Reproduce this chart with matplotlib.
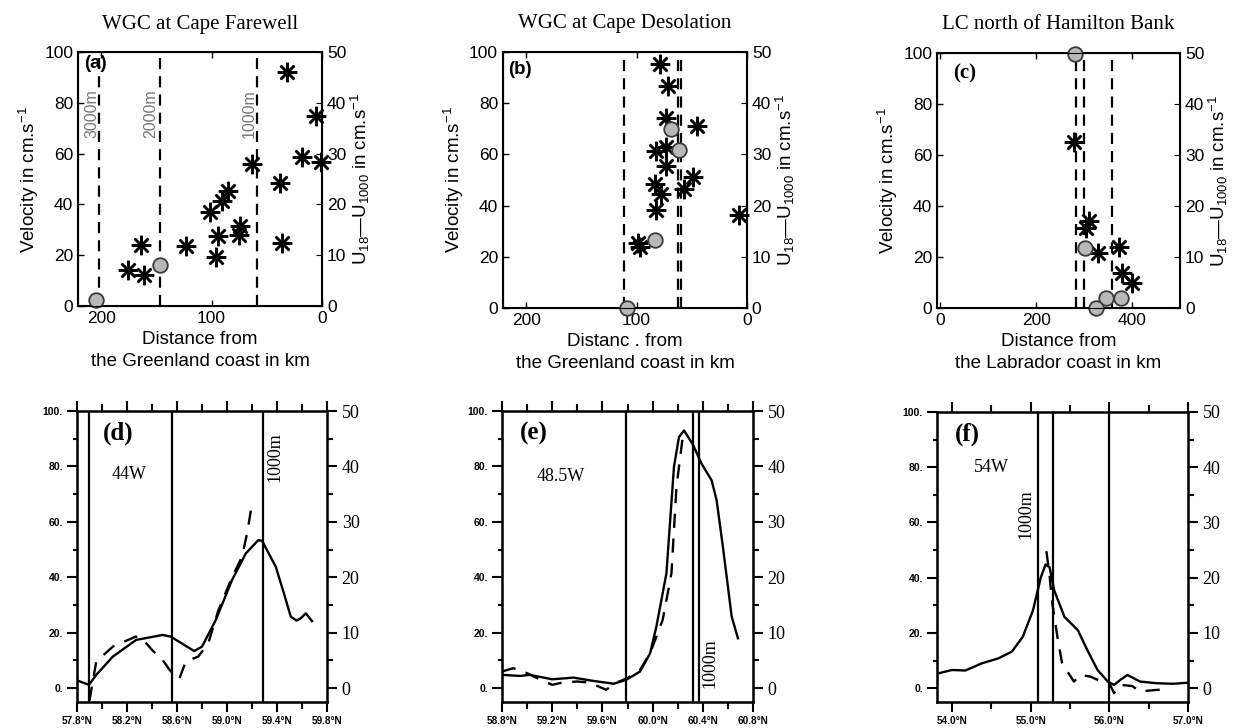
import matplotlib
matplotlib.use("Agg")
import matplotlib.pyplot as plt
from matplotlib.ticker import MultipleLocator, FixedLocator

plt.rcParams['font.family'] = ['Liberation Sans', 'DejaVu Sans']
plt.rcParams['mathtext.fontset'] = 'custom'
plt.rcParams['mathtext.rm'] = 'Liberation Sans'
plt.rcParams['mathtext.it'] = 'Liberation Sans:italic'
SERIF = 'Liberation Serif'

# ---------------- top row: velocities vs distance from the coast ----------------
a_star_x = [31.5, 5.5, 63.3, 18.5, 0.9, 38.2, 85.2, 90.3, 101.2, 74.5, 75.2, 94.2,
            123.0, 163.9, 35.8, 95.8, 176.0, 161.5]
a_star_y = [92.1, 74.9, 56.1, 58.7, 56.9, 48.5, 45.3, 41.3, 37.1, 31.4, 28.1, 27.4,
            23.5, 24.1, 24.8, 19.1, 14.2, 12.3]
a_circ_x = [204.8, 146.4]
a_circ_y = [2.1, 16.0]
a_isobaths = [202.4, 146.4, 58.5]
a_isobath_labels = ["3000m", "2000m", "1000m"]
a_isobath_label_x = [208.5, 154.8, 65.5]

b_star_x = [79.2, 71.7, 73.2, 45.5, 73.2, 82.1, 73.8, 48.5, 83.6, 77.7, 56.8, 82.7,
            7.7, 98.5, 97.0]
b_star_y = [95.4, 86.7, 74.2, 71.2, 63.0, 61.4, 55.6, 51.0, 48.6, 44.7, 46.4, 38.3,
            36.2, 25.5, 23.9]
b_circ_x = [68.8, 61.3, 83.6, 108.9]
b_circ_y = [69.9, 61.7, 26.4, 0.0]
b_isobaths = [111.3, 62.8, 59.8]

c_star_x = [278.4, 310.9, 304.0, 328.2, 373.0, 378.6, 400.7]
c_star_y = [65.2, 34.1, 31.5, 21.7, 24.0, 13.8, 9.8]
c_circ_x = [281.9, 302.6, 345.5, 376.6, 324.7]
c_circ_y = [99.7, 23.6, 3.9, 3.9, 0.0]
c_isobaths = [283.3, 300.0, 357.9]

titles = ["WGC at Cape Farewell", "WGC at Cape Desolation", "LC north of Hamilton Bank"]
xlabels = ["Distance from\nthe Greenland coast in km",
           "Distanc . from\nthe Greenland coast in km",
           "Distance from\nthe Labrador coast in km"]

# ---------------- bottom row: model sections ----------------
d_lat = [57.8, 57.896, 57.954, 58.087, 58.273, 58.485, 58.55, 58.737, 58.80, 58.91,
         59.04, 59.15, 59.25, 59.28, 59.39, 59.455, 59.51, 59.556, 59.59, 59.63, 59.68]
d_vel = [2.8, 1.2, 4.8, 11.4, 17.4, 19.2, 18.6, 13.4, 15.0, 24.6,
         39.0, 48.6, 53.4, 53.2, 43.8, 34.2, 25.8, 24.4, 25.2, 27.0, 24.2]
d_lat_dash = [57.9, 57.954, 58.087, 58.27, 58.32, 58.40, 58.485, 58.55, 58.62, 58.67,
              58.77, 58.85, 58.93, 59.04, 59.12, 59.16, 59.2]
d_vel_dash = [-4.5, 9.6, 15.0, 18.6, 18.0, 13.8, 10.2, 6.0, 3.6, 9.6,
              11.4, 16.2, 28.0, 40.0, 47.4, 55.8, 66.6]
d_vlines = [57.9, 58.56, 59.288]

e_lat = [58.8, 58.946, 59.02, 59.2, 59.37, 59.53, 59.69, 59.79, 59.9, 59.98, 60.03,
         60.11, 60.17, 60.21, 60.25, 60.32, 60.39, 60.47, 60.51, 60.56, 60.63, 60.68]
e_vel = [4.8, 4.4, 4.8, 3.2, 3.8, 2.6, 1.6, 3.0, 6.0, 12.6, 22.2,
         41.4, 79.8, 90.6, 93.0, 88.0, 81.0, 75.0, 67.8, 51.0, 25.8, 18.0]
e_lat_dash = [58.8, 58.89, 59.0, 59.08, 59.2, 59.28, 59.4, 59.5, 59.63, 59.7, 59.8,
              59.9, 59.98, 60.08, 60.15, 60.19, 60.24, 60.26]
e_vel_dash = [6.0, 7.2, 5.4, 3.6, 1.2, 2.0, 2.4, 2.0, -0.6, 1.8, 3.6,
              6.6, 12.6, 24.6, 41.4, 72.6, 90.6, 93.0]
e_vlines = [59.79, 60.323, 60.37]

f_lat = [63.83, 64.0, 64.17, 64.38, 64.59, 64.76, 64.9, 65.03, 65.13, 65.19, 65.24,
         65.3, 65.43, 65.6, 65.72, 65.85, 65.98, 66.06, 66.14, 66.23, 66.39, 66.6,
         66.81, 67.0]
f_vel = [5.4, 6.6, 6.4, 9.0, 10.8, 13.2, 18.6, 28.2, 40.2, 44.8, 43.8,
         35.4, 25.8, 21.0, 13.8, 6.6, 2.4, 1.2, 3.0, 4.8, 2.4, 1.8, 1.6, 2.0]
f_lat_dash = [65.2, 65.24, 65.27, 65.34, 65.4, 65.55, 65.63, 65.76, 65.9, 66.0,
              66.06, 66.14, 66.29, 66.39, 66.6, 66.77]
f_vel_dash = [49.6, 41.0, 31.8, 18.6, 9.0, 2.4, 4.8, 4.2, 2.4, 1.8,
              -1.8, 1.2, 0.8, -1.2, -0.6, -0.6]
f_vlines = [65.097, 65.284, 66.0]

vel_ticks = [0, 20, 40, 60, 80, 100]
vel_ticklabels = ["0.", "20.", "40.", "60.", "80.", "100."]

fig = plt.figure(figsize=(12.54, 7.28), dpi=100)


def top_panel(pos, xlim, xticks, sx, sy, cx, cy, isobaths, tag, tag_kw, title, xlabel):
    ax = fig.add_axes(pos)
    for xv in isobaths:
        ax.axvline(xv, color='k', lw=1.6, ls=(0, (5, 3.2)))
    ax.plot(sx, sy, ls='none', marker=(8, 2, 0), ms=14, mew=1.8, color='k', clip_on=False)
    ax.plot(cx, cy, ls='none', marker='o', ms=10.5, mfc='#b8b8b8', mec='#3a3a3a',
            mew=1.3, clip_on=False, zorder=4)
    ax.set_xlim(xlim)
    ax.set_ylim(0, 100)
    ax.set_xticks(xticks)
    ax.set_yticks(vel_ticks)
    ax.tick_params(direction='in', top=True, length=4, labelsize=12.5, width=1)
    for s in ax.spines.values():
        s.set_linewidth(1.5)
    ax.set_ylabel("Velocity in cm.s$^{-1}$", fontsize=13.5, labelpad=2)
    ax.set_xlabel(xlabel, fontsize=13.5, linespacing=1.35, labelpad=4)
    ax.set_title(title, family=SERIF, fontsize=15, pad=17)
    ax.text(*tag, transform=ax.transAxes, ha='left', va='center', **tag_kw)
    ax2 = ax.twinx()
    ax2.set_ylim(0, 50)
    ax2.set_yticks([0, 10, 20, 30, 40, 50])
    ax2.tick_params(direction='in', length=4, labelsize=12.5)
    ax2.set_ylabel("U$_{18}$\u2014U$_{1000}$ in cm.s$^{-1}$", fontsize=13.5, labelpad=2)
    return ax


ax_a = top_panel([0.0622, 0.580, 0.1946, 0.348], (221, 0), [200, 100, 0],
                 a_star_x, a_star_y, a_circ_x, a_circ_y, a_isobaths,
                 (0.025, 0.955, "(a)"), dict(fontsize=13.5, weight='bold'),
                 titles[0], xlabels[0])
for xv, lbl in zip(a_isobath_label_x, a_isobath_labels):
    ax_a.text(xv, 76, lbl, rotation=90, ha='center', va='center', color='#777777',
              fontsize=11.5)

top_panel([0.4011, 0.577, 0.1946, 0.3516], (221, 0), [200, 100, 0],
          b_star_x, b_star_y, b_circ_x, b_circ_y, b_isobaths,
          (0.022, 0.93, "(b)"), dict(fontsize=13.5, weight='bold'),
          titles[1], xlabels[1])

top_panel([0.7472, 0.577, 0.1938, 0.3503], (-7, 500), [0, 200, 400],
          c_star_x, c_star_y, c_circ_x, c_circ_y, c_isobaths,
          (0.066, 0.92, "(c)"), dict(fontsize=15, weight='bold', family=SERIF),
          titles[2], xlabels[2])


def bottom_panel(pos, xlim, major, minor, xticklabels, lat, vel, lat_d, vel_d, vlines,
                 tag_x, tags, lon_xy, depth_xy):
    ax = fig.add_axes(pos)
    ax.plot(lat, vel, color='k', lw=1.7)
    ax.plot(lat_d, vel_d, color='k', lw=1.7, ls=(0, (6, 4.5)))
    for xv in vlines:
        ax.axvline(xv, color='k', lw=1.6)
    ax.set_xlim(xlim)
    ax.set_ylim(-5, 100)
    ax.xaxis.set_major_locator(FixedLocator(major))
    ax.set_xticklabels(xticklabels, fontsize=7.2, weight='bold')
    ax.xaxis.set_minor_locator(MultipleLocator(minor))
    ax.yaxis.set_major_locator(FixedLocator(vel_ticks))
    ax.set_yticklabels(vel_ticklabels, fontsize=7.5, weight='bold')
    ax.yaxis.set_minor_locator(MultipleLocator(10))
    ax.tick_params(which='both', direction='out', top=True, right=False, width=1.5)
    ax.tick_params(which='major', length=7, pad=3)
    ax.tick_params(which='minor', length=5)
    ax.tick_params(axis='y', which='minor', length=3)
    for s in ax.spines.values():
        s.set_linewidth(1.8)
    ax.text(tag_x, 0.922, tags[0], transform=ax.transAxes, ha='left',
            va='center', family=SERIF, weight='bold', fontsize=18)
    ax.text(*lon_xy, tags[1], family=SERIF, fontsize=13, ha='center', va='center')
    ax.text(*depth_xy, "1000m", family=SERIF, fontsize=13, rotation=90,
            ha='center', va='center')
    ax2 = ax.twinx()
    ax2.set_ylim(-2.5, 50)
    ax2.yaxis.set_major_locator(MultipleLocator(10))
    ax2.yaxis.set_minor_locator(MultipleLocator(5))
    ax2.tick_params(which='both', direction='out', width=1.5)
    ax2.tick_params(which='major', length=7, labelsize=13)
    ax2.tick_params(which='minor', length=4)
    for lbl in ax2.get_yticklabels():
        lbl.set_family(SERIF)
    return ax


bottom_panel([0.0614, 0.0357, 0.1994, 0.3997], (57.8, 59.8), [57.8, 58.2, 58.6, 59.0, 59.4, 59.8],
             0.2, ["57.8°N", "58.2°N", "58.6°N", "59.0°N", "59.4°N", "59.8°N"],
             d_lat, d_vel, d_lat_dash, d_vel_dash, d_vlines,
             0.104, ("(d)", "44W"), (58.22, 77), (59.38, 83.5))

bottom_panel([0.4003, 0.0357, 0.2002, 0.3997], (58.8, 60.8), [58.8, 59.2, 59.6, 60.0, 60.4, 60.8],
             0.2, ["58.8°N", "59.2°N", "59.6°N", "60.0°N", "60.4°N", "60.8°N"],
             e_lat, e_vel, e_lat_dash, e_vel_dash, e_vlines,
             0.072, ("(e)", "48.5W"), (59.27, 76.2), (60.456, 9))

bottom_panel([0.7472, 0.0357, 0.2002, 0.3984], (63.81, 67.0), [64.0, 65.0, 66.0, 67.0],
             0.5, ["54.0°N", "55.0°N", "56.0°N", "57.0°N"],
             f_lat, f_vel, f_lat_dash, f_vel_dash, f_vlines,
             0.072, ("(f)", "54W"), (64.5, 79.8), (64.945, 63))

fig.savefig("out.png", dpi=100)
